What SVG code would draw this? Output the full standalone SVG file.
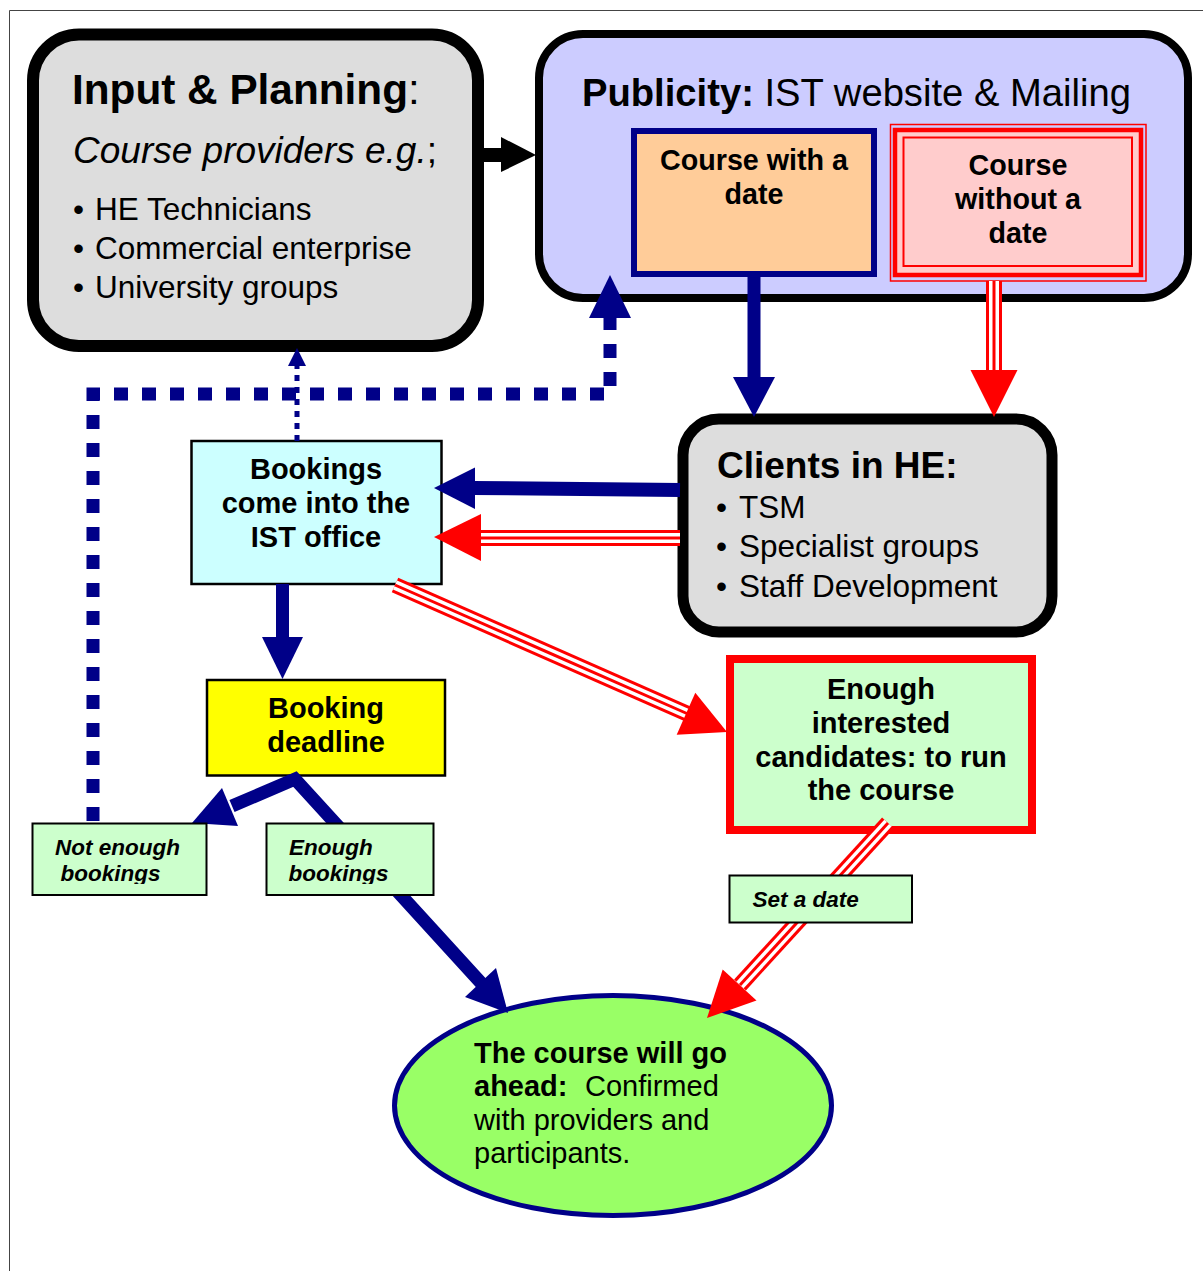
<svg xmlns="http://www.w3.org/2000/svg" width="1203" height="1271" viewBox="0 0 1203 1271">
<style>
text{font-family:"Liberation Sans",Arial,sans-serif;fill:#000}
.b{font-weight:bold}
.i{font-style:italic}
.n{font-weight:normal}
.c{text-anchor:middle}
.box{stroke:#000;stroke-width:2.5}
.lab{fill:#CCFFCC;stroke:#000;stroke-width:2}
.navy{stroke:#000088;fill:none}
.r1{stroke:#FF0000;stroke-width:16;fill:none}
.r2{stroke:#FFFFFF;stroke-width:10;fill:none}
.r3{stroke:#FF0000;stroke-width:3;fill:none}
.hn{fill:#000088}
.hr{fill:#FF0000}
</style>
<defs>
<clipPath id="clipLab"><rect x="0" y="800" width="1203" height="84"/></clipPath>
</defs>
<rect x="0" y="0" width="1203" height="1271" fill="#FFFFFF"/>
<path d="M9.5,1271 V10.5 H1203" stroke="#444" stroke-width="1" fill="none"/>

<g id="input-planning">
<rect x="33" y="34.5" width="445" height="311.5" rx="46" fill="#DDDDDD" stroke="#000" stroke-width="12"/>
<text x="72" y="104" class="b" font-size="42.3">Input &amp; Planning<tspan class="n">:</tspan></text>
<text x="73" y="163" class="i" font-size="37">Course providers e.g.<tspan font-style="normal">;</tspan></text>
<text x="73" y="220" font-size="31.5">•<tspan x="95">HE Technicians</tspan></text>
<text x="73" y="259" font-size="31.5">•<tspan x="95">Commercial enterprise</tspan></text>
<text x="73" y="298" font-size="31.5">•<tspan x="95">University groups</tspan></text>
</g>

<g id="publicity">
<rect x="539" y="34" width="649" height="264" rx="44" fill="#CCCCFF" stroke="#000" stroke-width="8"/>
<text x="582" y="106" class="b" font-size="38.2">Publicity:<tspan class="n"> IST website &amp; Mailing</tspan></text>
</g>

<g id="course-with-date">
<rect x="634" y="131" width="240" height="143" fill="#FFCC99" stroke="#000088" stroke-width="6"/>
<text x="754" y="170" class="b c" font-size="28.7">Course with a</text>
<text x="754" y="204" class="b c" font-size="28.7">date</text>
</g>

<g id="course-without-date">
<rect x="890.5" y="124.5" width="255.5" height="156.5" fill="none" stroke="#FF0000" stroke-width="1.5"/>
<rect x="895" y="130" width="246" height="145" fill="#FFCCCC" stroke="#FF0000" stroke-width="4.5"/>
<rect x="903.5" y="137.5" width="228.5" height="128.5" fill="none" stroke="#FF0000" stroke-width="2"/>
<text x="1018" y="175" class="b c" font-size="28.7">Course</text>
<text x="1018" y="209" class="b c" font-size="28.7">without a</text>
<text x="1018" y="243" class="b c" font-size="28.7">date</text>
</g>

<g id="clients">
<rect x="683" y="419" width="369" height="213" rx="36" fill="#DDDDDD" stroke="#000" stroke-width="11"/>
<text x="717" y="478" class="b" font-size="37">Clients in HE:</text>
<text x="716" y="518" font-size="31.5">•<tspan x="739">TSM</tspan></text>
<text x="716" y="557" font-size="31.5">•<tspan x="739">Specialist groups</tspan></text>
<text x="716" y="597" font-size="31.5">•<tspan x="739">Staff Development</tspan></text>
</g>

<g id="bookings">
<rect x="191.5" y="441" width="250" height="143" fill="#CCFFFF" class="box"/>
<text x="316" y="479" class="b c" font-size="29">Bookings</text>
<text x="316" y="513" class="b c" font-size="29">come into the</text>
<text x="316" y="546.5" class="b c" font-size="29">IST office</text>
</g>

<g id="booking-deadline">
<rect x="207" y="680" width="238" height="95.5" fill="#FFFF00" class="box"/>
<text x="326" y="717.5" class="b c" font-size="29">Booking</text>
<text x="326" y="752" class="b c" font-size="29">deadline</text>
</g>

<g id="enough-candidates">
<rect x="730" y="659" width="302" height="171" fill="#CCFFCC" stroke="#FF0000" stroke-width="8"/>
<text x="881" y="699" class="b c" font-size="29">Enough</text>
<text x="881" y="733" class="b c" font-size="29">interested</text>
<text x="881" y="767" class="b c" font-size="29">candidates: to run</text>
<text x="881" y="800" class="b c" font-size="29">the course</text>
</g>

<g id="course-go-ahead">
<ellipse cx="613" cy="1105.5" rx="218.5" ry="110" fill="#99FF66" stroke="#000088" stroke-width="5"/>
<text x="474" y="1063" class="b" font-size="29">The course will go</text>
<text x="474" y="1096" class="b" font-size="29">ahead:<tspan x="585" class="n">Confirmed</tspan></text>
<text x="474" y="1130" font-size="29">with providers and</text>
<text x="474" y="1163" font-size="29">participants.</text>
</g>

<g id="connectors">
<path d="M484,155 H503" stroke="#000" stroke-width="14" fill="none"/>
<polygon points="536,155 501,137 501,172" fill="#000"/>

<path class="navy" d="M754,274 V380" stroke-width="13"/>
<polygon class="hn" points="754,417 733,377 775,377"/>

<path class="r1" d="M994,281 V372"/><path class="r2" d="M994,281 V372"/><path class="r3" d="M994,281 V372"/>
<polygon class="hr" points="994,417 970.5,370 1017.5,370"/>

<path class="navy" d="M680,490 L473,488" stroke-width="14"/>
<polygon class="hn" points="434,488 475,467.5 475,509"/>

<path class="r1" d="M680,538 H479"/><path class="r2" d="M680,538 H479"/><path class="r3" d="M680,538 H479"/>
<polygon class="hr" points="434,537 481,514 481,561"/>

<path class="navy" d="M282.5,584 V640" stroke-width="13"/>
<polygon class="hn" points="282.5,679 262,637 303,637"/>

<path class="r1" d="M395,585 L688,714"/><path class="r2" d="M395,585 L688,714"/><path class="r3" d="M395,585 L688,714"/>
<polygon class="hr" points="727,732 695.3,692.8 676.7,734.8"/>

<path class="navy" d="M232,806 L295,779 L482,984" stroke-width="13" stroke-linejoin="miter"/>
<polygon class="hn" points="192,823 222,788 238,826"/>
<polygon class="hn" points="508,1013 465,997 496,968"/>

<path class="r1" d="M888,823 L740,985"/><path class="r2" d="M888,823 L740,985"/><path class="r3" d="M888,823 L740,985"/>
<polygon class="hr" points="707,1018 722.7,969.4 756.5,1000.6"/>

<path class="navy" d="M93,822 V394 H610 V318" stroke-width="13" stroke-dasharray="14 14" stroke-dashoffset="27"/>
<polygon class="hn" points="610,275 589,318 631,318"/>

<path class="navy" d="M297,441 V364" stroke-width="5" stroke-dasharray="6 6"/>
<polygon class="hn" points="297,348 288,366 306,366"/>
</g>

<g id="not-enough-bookings">
<rect x="32.5" y="823.5" width="174" height="71.5" class="lab"/>
<g clip-path="url(#clipLab)">
<text x="55" y="854.5" class="b i" font-size="22.5">Not enough</text>
<text x="60.5" y="881" class="b i" font-size="22.5">bookings</text>
</g>
</g>

<g id="enough-bookings">
<rect x="266.5" y="823.5" width="167" height="71.5" class="lab"/>
<g clip-path="url(#clipLab)">
<text x="289" y="854.5" class="b i" font-size="22.5">Enough</text>
<text x="288.5" y="881" class="b i" font-size="22.5">bookings</text>
</g>
</g>

<g id="set-a-date">
<rect x="729.5" y="875.5" width="182.5" height="47" class="lab"/>
<text x="752.5" y="906.5" class="b i" font-size="22.5">Set a date</text>
</g>
</svg>
